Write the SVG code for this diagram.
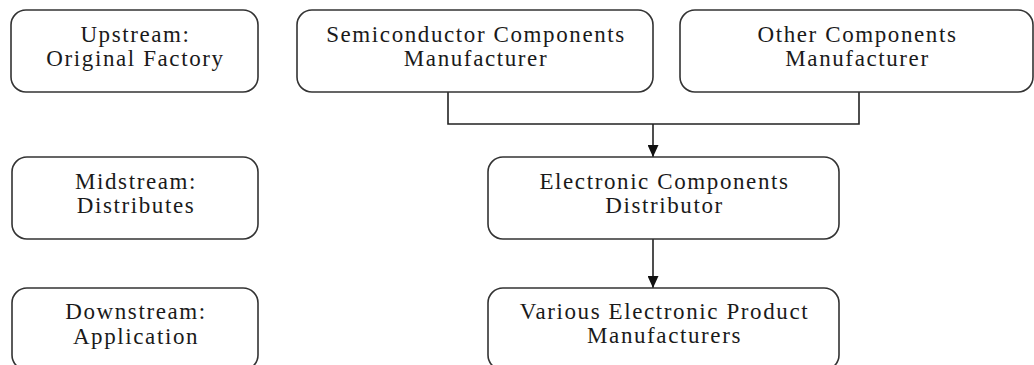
<svg xmlns="http://www.w3.org/2000/svg" width="1034" height="365" viewBox="0 0 1034 365">
<defs>
<style>
.box{fill:#fff;stroke:#333;stroke-width:1.6}
.t{font-family:"Liberation Serif","Times New Roman",serif;font-size:23px;letter-spacing:1.6px;fill:#1a1a1a;text-anchor:middle}
.c{fill:none;stroke:#222;stroke-width:1.6}
</style>
<marker id="ah" viewBox="0 0 12 11" refX="12" refY="5.5" markerWidth="12" markerHeight="11" markerUnits="userSpaceOnUse" orient="auto">
<path d="M0,0 L12,5.5 L0,11 Z" fill="#111"/>
</marker>
</defs>
<rect width="1034" height="365" fill="#fff"/>
<g id="connectors">
<path class="c" d="M448,92 V124 H859 V92"/>
<path class="c" d="M653,124 V157" marker-end="url(#ah)"/>
<path class="c" d="M653,239 V288" marker-end="url(#ah)"/>
</g>
<g id="upstream">
<rect class="box" x="11" y="10" width="247" height="82" rx="15"/>
<text class="t" x="135.5" y="41.5">Upstream:</text>
<text class="t" x="135.5" y="66">Original Factory</text>
</g>
<g id="semiconductor">
<rect class="box" x="297" y="10" width="356" height="82" rx="15"/>
<text class="t" x="476" y="41.5">Semiconductor Components</text>
<text class="t" x="476" y="66">Manufacturer</text>
</g>
<g id="other">
<rect class="box" x="680" y="10" width="353" height="82" rx="15"/>
<text class="t" x="857.5" y="41.5">Other Components</text>
<text class="t" x="857.5" y="66">Manufacturer</text>
</g>
<g id="midstream">
<rect class="box" x="12" y="157" width="246" height="82" rx="15"/>
<text class="t" x="136" y="188.5">Midstream:</text>
<text class="t" x="136" y="213">Distributes</text>
</g>
<g id="distributor">
<rect class="box" x="488" y="157" width="351" height="82" rx="15"/>
<text class="t" x="664.5" y="188.5">Electronic Components</text>
<text class="t" x="664.5" y="213">Distributor</text>
</g>
<g id="downstream">
<rect class="box" x="12" y="288" width="246" height="82" rx="15"/>
<text class="t" x="136" y="319">Downstream:</text>
<text class="t" x="136" y="343.5">Application</text>
</g>
<g id="various">
<rect class="box" x="488" y="288" width="351" height="82" rx="15"/>
<text class="t" x="664.5" y="318.5">Various Electronic Product</text>
<text class="t" x="664.5" y="343">Manufacturers</text>
</g>
</svg>
